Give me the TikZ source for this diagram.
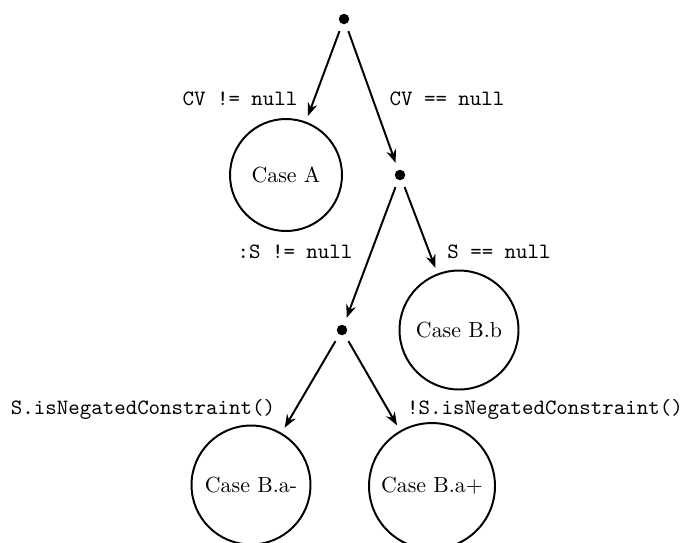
\documentclass[tikz,border=0pt]{standalone}
\usetikzlibrary{arrows.meta}
\begin{document}
\begin{tikzpicture}[x=0.4572pt,y=-0.4572pt,
  dotnode/.style={circle, inner sep=0pt, minimum size=11.4pt,
    path picture={\fill[black] (path picture bounding box.center) circle (2.4pt);}},
  casenode/.style={circle, draw, line width=0.9pt, inner sep=0pt, outer sep=3.2pt},
  lbl/.style={font=\ttfamily, inner sep=0pt, anchor=base},
  edgearrow/.style={line width=0.9pt, -{Stealth[length=6pt,width=4.5pt]}}]
\useasboundingbox (0,0) rectangle (683,542);
\clip (0,0) rectangle (683,542);
\node[dotnode] (r) at (344,19) {};
\node[casenode, minimum size=51.2pt] (A) at (286,175) {Case A};
\node[dotnode] (b) at (400,175) {};
\node[casenode, minimum size=54.4pt] (Bb) at (459,330) {Case B.b};
\node[dotnode] (ba) at (342,330) {};
\node[casenode, minimum size=54.4pt] (Bam) at (251,485) {Case B.a-};
\node[casenode, minimum size=57.6pt] (Bap) at (432,486) {Case B.a+};
\node[lbl] (l1) at (240,105) {CV != null};
\node[lbl] (l2) at (447,105) {CV == null};
\node[lbl] (l3) at (295,258) {:S != null};
\node[lbl] (l4) at (499,258) {S == null};
\node[lbl] (l5) at (143,414) {S.isNegatedConstraint()};
\node[lbl] (l6) at (545,414) {!S.isNegatedConstraint()};
\draw[edgearrow] (r) -- (A);
\draw[edgearrow] (r) -- (b);
\draw[edgearrow] (b) -- (ba);
\draw[edgearrow] (b) -- (Bb);
\draw[edgearrow] (ba) -- (Bam);
\draw[edgearrow] (ba) -- (Bap);
\end{tikzpicture}
\end{document}
